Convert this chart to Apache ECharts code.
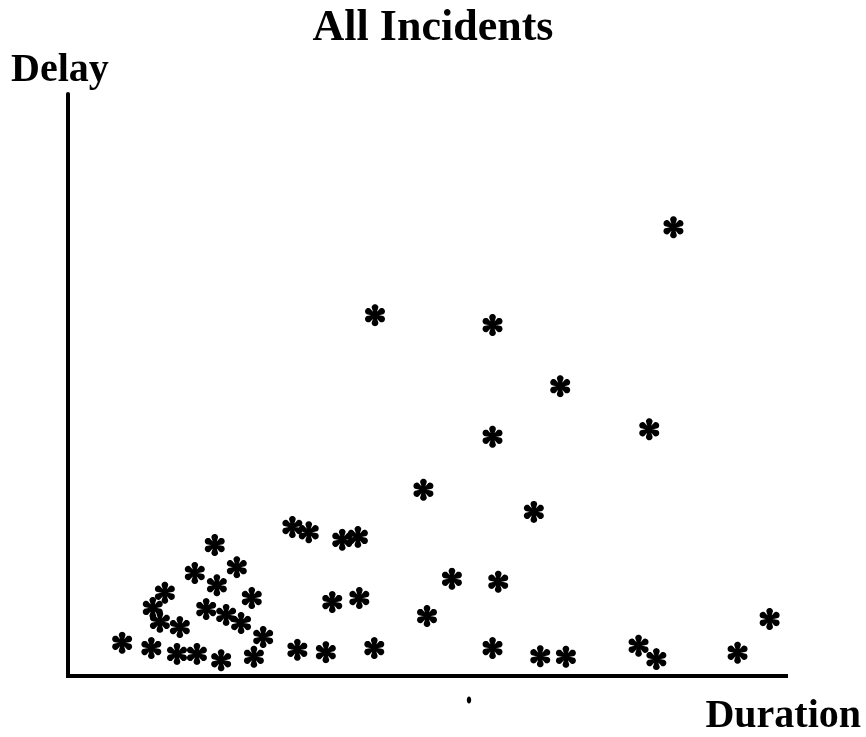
<!DOCTYPE html>
<html>
<head>
<meta charset="utf-8">
<script src="https://cdn.jsdelivr.net/npm/echarts@6/dist/echarts.min.js"></script>
<style>html,body{margin:0;padding:0;background:#fff;}#c{width:866px;height:737px;}</style>
</head>
<body>
<div id="c"></div>
<script>
// Data (Duration, Delay), arbitrary units
var duration = [20.6,17.8,23.7,20.9,13.6,25.8,11.9,19.4,22.2,24.3,12.9,15.7,27.4,7.6,11.7,15.3,18.1,21.5,26.1,32.2,
                31.5,33.8,38.5,40.7,53.9,37.1,40.9,50.4,36.2,43.0,60.4,59.6,85.0,43.1,59.6,69.1,81.6,59.6,49.9,65.4,
                98.5,66.3,69.9,80.1,82.6,94.0];
var delay    = [22.5,17.7,18.7,15.6,14.3,13.4,11.7,11.5,10.5,9.1,9.3,8.4,6.7,5.7,4.8,3.8,3.8,2.7,3.3,4.5,
                25.6,24.7,23.4,23.9,16.7,12.7,13.4,10.3,4.1,4.8,16.2,4.8,77.1,62.0,60.3,49.8,42.4,41.1,32.0,28.2,
                9.8,3.4,3.3,5.2,2.9,4.0];
var titleText = 'All Incidents';
var xName = 'Duration';
var yName = 'Delay';

// asterisk symbol path (six teardrop petals)
function asteriskPath() {
  var parts = [];
  var angles = [90, 30, -30, -90, 150, 210];
  var dist = 6.6, r = 2.9, w = 0.75;
  angles.forEach(function (a) {
    var t = a * Math.PI / 180;
    var ux = Math.cos(t), uy = -Math.sin(t);
    var px = -uy, py = ux;
    var pts = [];
    pts.push([px * w, py * w]);
    var base = Math.atan2(py, px);
    for (var k = 0; k <= 16; k++) {
      var ang = base - Math.PI * k / 16;
      pts.push([ux * dist + Math.cos(ang) * r, uy * dist + Math.sin(ang) * r]);
    }
    pts.push([-px * w, -py * w]);
    parts.push('M' + pts.map(function (p) { return p[0].toFixed(2) + ' ' + p[1].toFixed(2); }).join(' L') + ' Z');
  });
  parts.push('M-1.1 0 A1.1 1.1 0 1 0 1.1 0 A1.1 1.1 0 1 0 -1.1 0 Z');
  return 'path://' + parts.join(' ');
}

var points = duration.map(function (d, i) { return [d, delay[i]]; });
var font = '"Liberation Serif", "Times New Roman", serif';

var chart = echarts.init(document.getElementById('c'));
chart.setOption({
  backgroundColor: '#fff',
  animation: false,
  title: [
    { text: titleText, left: 'center', top: 2, textStyle: { fontFamily: font, fontWeight: 'bold', fontSize: 44, color: '#000' } },
    { text: yName, left: 6, top: 46, textStyle: { fontFamily: font, fontWeight: 'bold', fontSize: 40, color: '#000' } },
    { text: xName, right: 0, top: 692, textStyle: { fontFamily: font, fontWeight: 'bold', fontSize: 40, color: '#000' } }
  ],
  grid: { left: 68, right: 80, top: 94, bottom: 61, containLabel: false },
  xAxis: {
    type: 'value', min: 0, max: 100.8,
    axisLine: { show: true, lineStyle: { color: '#000', width: 4, cap: 'square' } },
    axisTick: { show: false }, axisLabel: { show: false }, splitLine: { show: false }
  },
  yAxis: {
    type: 'value', min: 0, max: 100,
    axisLine: { show: true, lineStyle: { color: '#000', width: 4 } },
    axisTick: { show: false }, axisLabel: { show: false }, splitLine: { show: false }
  },
  graphic: [
    { type: 'ellipse', shape: { cx: 469, cy: 700, rx: 2.2, ry: 3.6 }, style: { fill: '#000' } }
  ],
  series: [{
    type: 'scatter',
    data: points,
    symbol: asteriskPath(),
    symbolSize: 22,
    symbolKeepAspect: true,
    itemStyle: { color: '#000', opacity: 1 }
  }]
});
</script>
</body>
</html>
